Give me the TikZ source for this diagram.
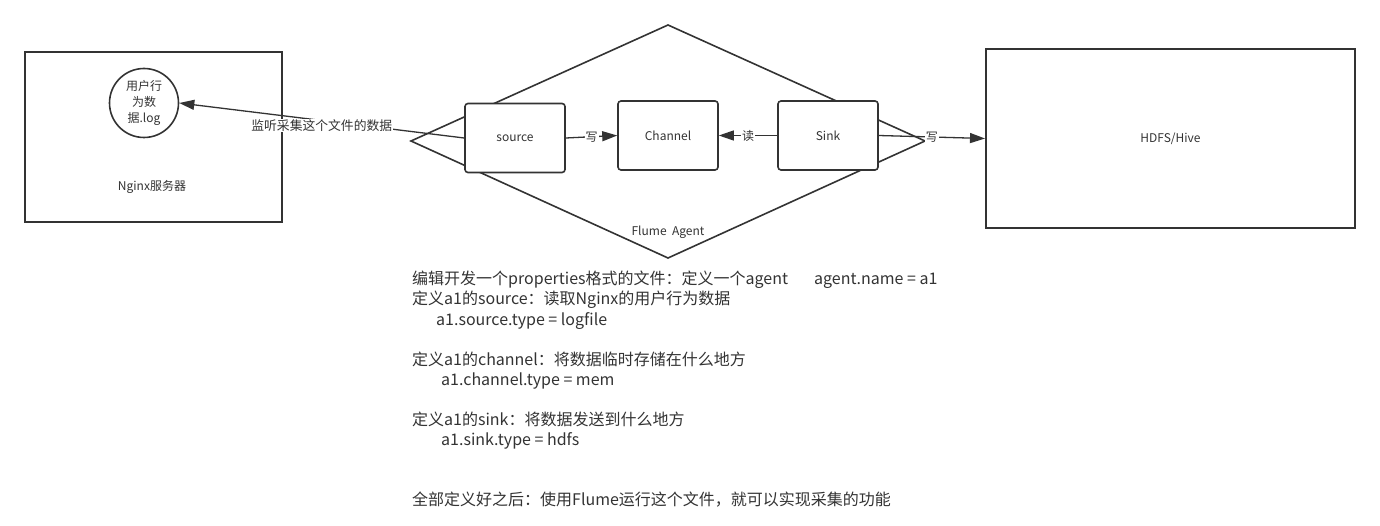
\documentclass[tikz,border=0pt]{standalone}
\usepackage{fontspec}
\setmainfont{Noto Sans CJK SC}
\usetikzlibrary{arrows.meta}
\definecolor{ink}{HTML}{333333}
\begin{document}
\begin{tikzpicture}[x=1pt,y=-1pt,
  every node/.style={text=ink,font=\fontsize{12}{16}\selectfont},
  bigbox/.style={draw=ink,line width=2pt,inner sep=0},
  rbox/.style={draw=ink,line width=1.6pt,rounded corners=3pt,minimum width=100pt,minimum height=69pt,inner sep=0},
  conn/.style={draw=ink,line width=1.3pt,-{Triangle[length=15pt,width=10pt]}},
  lab/.style={fill=white,inner sep=1pt},
  txt/.style={anchor=base west,inner sep=0,font=\fontsize{16}{20}\selectfont}]
\useasboundingbox (0,0) rectangle (1380,526);
% Nginx server
\node[bigbox,minimum width=257pt,minimum height=170pt] (nginx) at (153.5,137) {};
\node (nginxlab) at (152,187) {Nginx服务器};
\node[draw=ink,line width=1.6pt,circle,minimum size=69pt,inner sep=0,align=center,font=\fontsize{12}{16}\selectfont] (log) at (144,103) {用户行\\为数\\据.log};
% Flume agent diamond
\coordinate (dl) at (411,141);
\coordinate (dt) at (668,25);
\coordinate (dr) at (925,141);
\coordinate (db) at (668,258);
\draw[ink,line width=1.6pt] (dl) -- (dt) -- (dr) -- (db) -- cycle;
\node (agent) at (668,232) {Flume\ \ Agent};
% inner boxes
\node[rbox,fill=white] (src) at (515,138) {source};
\node[rbox,fill=white] (ch) at (668,135.5) {Channel};
\node[rbox,fill=white] (sink) at (828,135.5) {Sink};
% HDFS
\node[bigbox,minimum width=369pt,minimum height=179pt] (hdfs) at (1170.5,138.5) {HDFS/Hive};
% connectors
\draw[conn] (src.west) -- node[lab,pos=0.5,yshift=-5pt,font=\fontsize{12.8}{16}\selectfont] {监听采集这个文件的数据} (log.east);
\draw[conn] (src.east) -- node[lab] {写} (ch.west);
\draw[conn] (sink.west) -- node[lab] {读} (ch.east);
\draw[conn] (sink.east) -- node[lab] {写} (hdfs.west);
% notes
\node[txt] (t1) at (412,285) {编辑开发一个properties格式的文件：定义一个agent\hspace{26pt}agent.name = a1};
\node[txt] (t2) at (412,305) {定义a1的source：读取Nginx的用户行为数据};
\node[txt] (t3) at (436,325) {a1.source.type = logfile};
\node[txt] (t4) at (412,365) {定义a1的channel：将数据临时存储在什么地方};
\node[txt] (t5) at (441,385) {a1.channel.type = mem};
\node[txt] (t6) at (412,425) {定义a1的sink：将数据发送到什么地方};
\node[txt] (t7) at (441,445) {a1.sink.type = hdfs};
\node[txt] (t8) at (412,505) {全部定义好之后：使用Flume运行这个文件，就可以实现采集的功能};
\end{tikzpicture}
\end{document}
